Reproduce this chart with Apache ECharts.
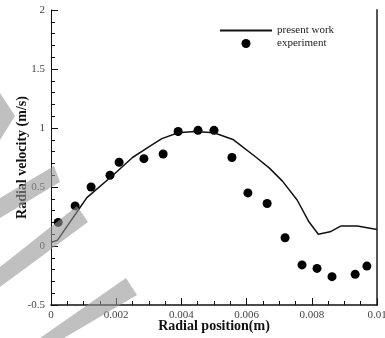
<!DOCTYPE html>
<html>
<head>
<meta charset="utf-8">
<script src="https://cdn.jsdelivr.net/npm/echarts@6/dist/echarts.min.js"></script>
<style>
  html, body { margin: 0; padding: 0; background: #fff; }
  #chart { width: 385px; height: 338px; }
</style>
</head>
<body>
<div id="chart"></div>
<script>
// experiment points
const expX = [0.00022, 0.00074, 0.00123, 0.00181, 0.00209, 0.00285, 0.00344, 0.0039, 0.00451, 0.005, 0.00555, 0.00604, 0.00663, 0.00718, 0.0077, 0.00816, 0.00862, 0.00933, 0.00969];
const expY = [0.2, 0.34, 0.5, 0.6, 0.71, 0.74, 0.78, 0.97, 0.98, 0.98, 0.75, 0.45, 0.36, 0.07, -0.16, -0.19, -0.26, -0.24, -0.17];

// present work (simulation) curve
const simX = [0, 0.0002, 0.0008, 0.0011, 0.0019, 0.0025, 0.003, 0.0034, 0.0039, 0.0044, 0.005, 0.0056, 0.0063, 0.0067, 0.0071, 0.00755, 0.0079, 0.0082, 0.00856, 0.0089, 0.0094, 0.01];
const simY = [0.03, 0.05, 0.29, 0.41, 0.6, 0.75, 0.84, 0.91, 0.96, 0.97, 0.96, 0.9, 0.75, 0.66, 0.55, 0.39, 0.21, 0.1, 0.12, 0.17, 0.17, 0.14];

const xTicks = ['0', '0.002', '0.004', '0.006', '0.008', '0.01'];

const zip = (xs, ys) => xs.map((x, i) => [x, ys[i]]);
const serif = '"Liberation Serif", "DejaVu Serif", serif';
const stripe = 'rgba(150,150,150,0.6)';

const chart = echarts.init(document.getElementById('chart'));
chart.setOption({
  animation: false,
  grid: { left: 51, right: 8, top: 10, bottom: 33, containLabel: false, outerBoundsMode: 'none' },
  legend: {
    orient: 'vertical',
    left: 215,
    top: 20,
    itemWidth: 52,
    itemHeight: 9,
    itemGap: 2,
    textStyle: { fontFamily: serif, fontSize: 11, color: '#222' },
    data: [
      { name: 'present work', icon: 'path://M0,0 H52 V2 H0 Z' },
      { name: 'experiment', icon: 'circle' }
    ]
  },
  xAxis: {
    type: 'value',
    min: 0,
    max: 0.01,
    interval: 0.002,
    name: 'Radial position(m)',
    nameLocation: 'middle',
    nameGap: 14,
    nameMoveOverlap: false,
    nameTextStyle: { fontFamily: serif, fontSize: 14, fontWeight: 'bold', color: '#111' },
    axisLine: { onZero: false, lineStyle: { color: '#111', width: 1.5 } },
    axisTick: { inside: true, length: 7, lineStyle: { color: '#111' } },
    minorTick: { show: true, splitNumber: 4, length: 4, lineStyle: { color: '#111' } },
    axisLabel: {
      margin: 5,
      fontFamily: serif, fontSize: 11, color: '#444',
      formatter: (v) => xTicks[Math.round(v / 0.002)]
    },
    splitLine: { show: false }
  },
  yAxis: [{
    type: 'value',
    min: -0.5,
    max: 2,
    interval: 0.5,
    name: 'Radial velocity (m/s)',
    nameLocation: 'middle',
    nameGap: 22,
    nameMoveOverlap: false,
    nameTextStyle: { fontFamily: serif, fontSize: 14, fontWeight: 'bold', color: '#111' },
    axisLine: { show: true, onZero: false, lineStyle: { color: '#111', width: 1 } },
    axisTick: { inside: true, length: 7, lineStyle: { color: '#111' } },
    minorTick: { show: true, splitNumber: 5, length: 4, lineStyle: { color: '#111' } },
    axisLabel: { margin: 6, fontFamily: serif, fontSize: 11, color: '#444' },
    splitLine: { show: false }
  }, {
    type: 'value',
    position: 'right',
    min: -0.5,
    max: 2,
    axisLine: { show: true, onZero: false, lineStyle: { color: '#555', width: 2 } },
    axisTick: { show: false },
    axisLabel: { show: false },
    splitLine: { show: false }
  }],
  series: [{
    name: 'present work',
    type: 'line',
    data: zip(simX, simY),
    symbol: 'none',
    lineStyle: { color: '#111', width: 1.5 },
    itemStyle: { color: '#111' }
  }, {
    name: 'experiment',
    type: 'scatter',
    data: zip(expX, expY),
    symbol: 'circle',
    symbolSize: 9,
    itemStyle: { color: '#000', opacity: 1 }
  }],
  graphic: [
    { type: 'polygon', z: 100, shape: { points: [[0, 93], [15, 116], [0, 140]] }, style: { fill: stripe } },
    { type: 'polygon', z: 100, shape: { points: [[0, 198], [54, 166], [60, 182], [0, 218]] }, style: { fill: stripe } },
    { type: 'polygon', z: 100, shape: { points: [[0, 267], [77, 206], [88, 222], [0, 287]] }, style: { fill: stripe } },
    { type: 'polygon', z: 100, shape: { points: [[40, 338], [126, 278], [137, 295], [64, 338]] }, style: { fill: stripe } }
  ]
});
</script>
</body>
</html>
